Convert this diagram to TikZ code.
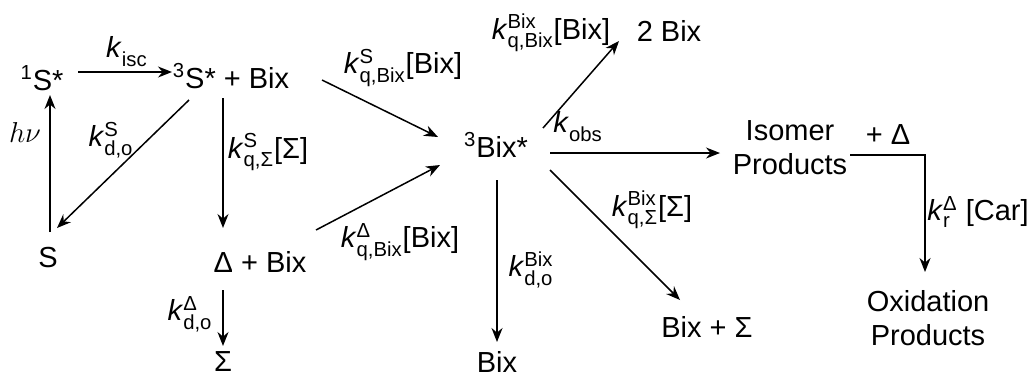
\documentclass[tikz,border=0pt]{standalone}
\usepackage{fontspec}
\usepackage{amsmath}
\setmainfont{Liberation Sans}
\usetikzlibrary{calc,arrows.meta}
\newcommand{\krt}[2]{\textit{k}$^{\text{#1}}_{\text{#2}}$}
\tikzset{
  species/.style={inner sep=0pt,font=\fontsize{14.5}{17}\selectfont,align=center},
  ratelbl/.style={inner sep=0pt,font=\fontsize{14.5}{17}\selectfont},
  flow/.style={->,line width=0.75pt}
}
\begin{document}
\begin{tikzpicture}[x=0.5pt,y=-0.5pt,>={Stealth[length=7pt,width=5.5pt]}]
  \useasboundingbox (0,0) rectangle (1031,376);
  % 物种
  \node[species] (s1)   at (42,78)   {\textsuperscript{1}S*};
  \node[species] (s3)   at (231,76)  {\textsuperscript{3}S* + Bix};
  \node[species] (s0)   at (48,258)  {S};
  \node[species] (d1)   at (260,262) {Δ + Bix};
  \node[species] (sig)  at (223,362) {Σ};
  \node[species] (bix3) at (496,145) {\textsuperscript{3}Bix*};
  \node[species] (bix2) at (669,31)  {2 Bix};
  \node[species] (iso)  at (790,148) {Isomer\\Products};
  \node[species] (pd)   at (888,135) {+ Δ};
  \node[species] (oxi)  at (928,318) {Oxidation\\Products};
  \node[species] (bxs)  at (707,327) {Bix + Σ};
  \node[species] (bix)  at (497,362) {Bix};

  % 箭头
  \draw[flow] ($(s1)+(36,-6)$) -- ($(s3)+(-59,-4)$);
  \draw[flow] ($(s0)+(2,-26)$) -- ($(s1)+(8,17)$);
  \draw[flow] ($(s3)+(-42,24)$) -- ($(s0)+(9,-30)$);
  \draw[flow] ($(s3)+(-8,22)$) -- ($(d1)+(-37,-34)$);
  \draw[flow] ($(d1)+(-37,28)$) -- ($(sig)+(0,-16)$);
  \draw[flow] ($(s3)+(91,4)$) -- ($(bix3)+(-58,-8)$);
  \draw[flow] ($(d1)+(56,-32)$) -- ($(bix3)+(-56,20)$);
  \draw[flow] ($(bix3)+(47,-17)$) -- ($(bix2)+(-50,10)$);
  \draw[flow] ($(bix3)+(54,8)$) -- ($(iso)+(-70,5)$);
  \draw[flow] ($(bix3)+(54,25)$) -- ($(bxs)+(-27,-27)$);
  \draw[flow] ($(bix3)+(1,35)$) -- ($(bix)+(0,-20)$);
  \draw[flow] ($(iso)+(60,7)$) -| ($(oxi)+(-3,-46)$);

  % 速率常数
  \node[ratelbl] (l1)  at (127,52)  {\krt{}{isc}};
  \node[ratelbl] (l2)  at (25,132)  {$h\nu$};
  \node[ratelbl] (l3)  at (111,140) {\krt{S}{d,o}};
  \node[ratelbl] (l4)  at (268,152) {\krt{S}{q,Σ}[Σ]};
  \node[ratelbl] (l5)  at (190,314) {\krt{Δ}{d,o}};
  \node[ratelbl] (l6)  at (403,68)  {\krt{S}{q,Bix}[Bix]};
  \node[ratelbl] (l7)  at (400,242) {\krt{Δ}{q,Bix}[Bix]};
  \node[ratelbl] (l8)  at (551,33)  {\krt{Bix}{q,Bix}[Bix]};
  \node[ratelbl] (l9)  at (578,127) {\krt{}{obs}};
  \node[ratelbl] (l10) at (652,210) {\krt{Bix}{q,Σ}[Σ]};
  \node[ratelbl] (l11) at (531,270) {\krt{Bix}{d,o}};
  \node[ratelbl] (l12) at (978,212) {\krt{Δ}{r}\ [Car]};
\end{tikzpicture}
\end{document}
